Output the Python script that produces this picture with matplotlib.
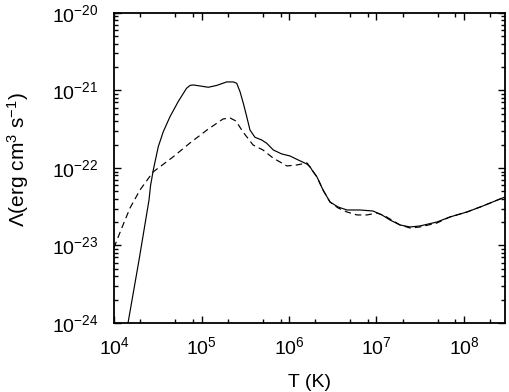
import matplotlib
matplotlib.use("Agg")
import matplotlib.pyplot as plt
from matplotlib.ticker import FixedLocator, NullFormatter

plt.rcParams['font.family'] = ['Liberation Sans', 'DejaVu Sans']
plt.rcParams['mathtext.fontset'] = 'custom'
plt.rcParams['mathtext.rm'] = 'Liberation Sans'
plt.rcParams['mathtext.it'] = 'Liberation Sans:italic'
plt.rcParams['mathtext.bf'] = 'Liberation Sans:bold'

# log10 T and log10 Lambda
solid_logT = [4.137, 4.16, 4.286, 4.4, 4.417, 4.449, 4.506, 4.563, 4.64, 4.733,
              4.829, 4.869, 4.906, 4.983, 5.078, 5.174, 5.288, 5.363, 5.402, 5.44,
              5.478, 5.517, 5.554, 5.611, 5.688, 5.745, 5.821, 5.917, 6.011, 6.106,
              6.202, 6.24, 6.263, 6.32, 6.389, 6.469, 6.56, 6.663, 6.811, 6.96,
              7.063, 7.154, 7.269, 7.383, 7.497, 7.691, 7.84, 8.034, 8.217, 8.469]
solid_logL = [-24.155, -24.0, -23.187, -22.413, -22.232, -22.026, -21.725, -21.532, -21.338, -21.145,
              -20.972, -20.935, -20.929, -20.942, -20.959, -20.935, -20.89, -20.89, -20.907, -21.015,
              -21.165, -21.338, -21.51, -21.604, -21.639, -21.681, -21.768, -21.819, -21.845, -21.897,
              -21.948, -21.983, -22.026, -22.116, -22.284, -22.439, -22.503, -22.542, -22.542, -22.555,
              -22.606, -22.671, -22.735, -22.761, -22.748, -22.697, -22.632, -22.568, -22.49, -22.374]

dashed_logT = [4.0, 4.034, 4.103, 4.183, 4.297, 4.446, 4.674, 4.869, 5.063, 5.246,
               5.326, 5.394, 5.474, 5.589, 5.703, 5.817, 5.977, 6.091, 6.206, 6.263,
               6.32, 6.389, 6.469, 6.56, 6.663, 6.777, 6.891, 7.006, 7.097, 7.269,
               7.383, 7.497, 7.691, 7.84, 8.034, 8.217, 8.469]
dashed_logL = [-23.03, -22.929, -22.735, -22.516, -22.284, -22.052, -21.858, -21.677, -21.51, -21.368,
               -21.355, -21.394, -21.535, -21.703, -21.768, -21.871, -21.974, -21.961, -21.935, -22.026,
               -22.116, -22.284, -22.439, -22.515, -22.568, -22.606, -22.606, -22.581, -22.619, -22.735,
               -22.774, -22.761, -22.71, -22.632, -22.568, -22.49, -22.374]

x_decades = [4, 5, 6, 7, 8]
y_decades = [-24, -23, -22, -21, -20]
x_minor_subs = [2, 5, 8]

T_solid = [10 ** v for v in solid_logT]
L_solid = [10 ** v for v in solid_logL]
T_dashed = [10 ** v for v in dashed_logT]
L_dashed = [10 ** v for v in dashed_logL]

fig = plt.figure(figsize=(5.09, 3.92), dpi=100)
ax = fig.add_axes([0.224, 0.176, 0.768, 0.791])

ax.plot(T_solid, L_solid, '-', color='black', linewidth=0.85)
ax.plot(T_dashed, L_dashed, '--', color='black', linewidth=0.85, dashes=(5.5, 3.5))

ax.set_xscale('log')
ax.set_yscale('log')
xmax = 2.94e8
ax.set_xlim(1e4, xmax)
ax.set_ylim(1e-24, 1e-20)

ax.xaxis.set_major_locator(FixedLocator([10.0 ** d for d in x_decades]))
x_minor = [s * 10.0 ** d for d in x_decades for s in x_minor_subs if s * 10.0 ** d < xmax]
ax.xaxis.set_minor_locator(FixedLocator(x_minor))
ax.xaxis.set_minor_formatter(NullFormatter())
ax.yaxis.set_major_locator(FixedLocator([10.0 ** d for d in y_decades]))
y_minor = [s * 10.0 ** d for d in y_decades[:-1] for s in range(2, 10)]
ax.yaxis.set_minor_locator(FixedLocator(y_minor))
ax.yaxis.set_minor_formatter(NullFormatter())

ax.tick_params(which='both', direction='in', top=True, right=True, labelsize=14)
ax.tick_params(which='major', length=5, width=1.0)
ax.tick_params(which='minor', length=2.8, width=1.0)
ax.tick_params(axis='x', which='major', pad=9.5)
ax.tick_params(axis='y', which='major', pad=11)
for s in ax.spines.values():
    s.set_linewidth(1.3)

ax.set_xlabel('T (K)', fontsize=14)
ax.xaxis.label.set_verticalalignment('baseline')
ax.xaxis.set_label_coords(0.5, -0.205)
ax.set_ylabel(r'$\Lambda$(erg cm$^3$ s$^{-1}$)', fontsize=15)
ax.yaxis.set_label_coords(-0.212, 0.526)

plt.savefig('out.png', dpi=100)
